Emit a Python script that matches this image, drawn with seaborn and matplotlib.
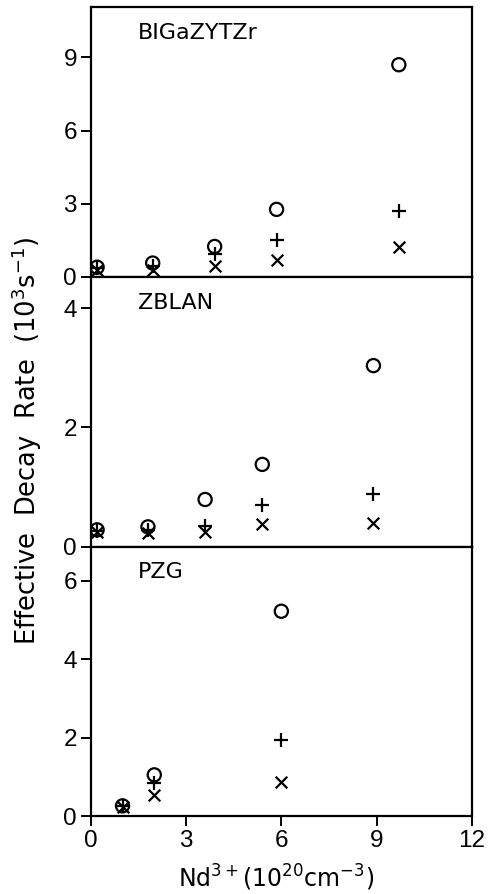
import numpy as np
import pandas as pd
import seaborn as sns
import matplotlib.pyplot as plt

# данные
glasses = ['BIGaZYTZr', 'ZBLAN', 'PZG']

conc_bigazytzr = [0.2, 1.95, 3.9, 5.85, 9.7]
o_bigazytzr = [0.40, 0.57, 1.25, 2.77, 8.7]
plus_bigazytzr = [0.35, 0.45, 0.95, 1.50, 2.72]
x_bigazytzr = [0.30, 0.30, 0.43, 0.68, 1.22]

conc_zblan = [0.2, 1.8, 3.6, 5.4, 8.9]
o_zblan = [0.28, 0.33, 0.79, 1.38, 3.04]
plus_zblan = [0.26, 0.28, 0.35, 0.69, 0.89]
x_zblan = [0.25, 0.22, 0.24, 0.37, 0.40]

conc_pzg = [1.0, 2.0, 6.0]
o_pzg = [0.26, 1.05, 5.22]
plus_pzg = [0.25, 0.85, 1.93]
x_pzg = [0.24, 0.54, 0.88]

y_ticks = {'BIGaZYTZr': [0, 3, 6, 9], 'ZBLAN': [0, 2, 4], 'PZG': [0, 2, 4, 6]}
y_tops = {'BIGaZYTZr': 11.05, 'ZBLAN': 4.53, 'PZG': 6.87}
x_ticks = [0, 3, 6, 9, 12]

rows = []
for g, c, o, p, x in [('BIGaZYTZr', conc_bigazytzr, o_bigazytzr, plus_bigazytzr, x_bigazytzr),
                      ('ZBLAN', conc_zblan, o_zblan, plus_zblan, x_zblan),
                      ('PZG', conc_pzg, o_pzg, plus_pzg, x_pzg)]:
    for i in range(len(c)):
        rows.append((g, c[i], 'o', o[i]))
        rows.append((g, c[i], '+', p[i]))
        rows.append((g, c[i], 'x', x[i]))
df = pd.DataFrame(rows, columns=['glass', 'conc', 'series', 'rate'])

sns.set_style('ticks')
plt.rcParams['font.family'] = ['Liberation Sans', 'DejaVu Sans']
plt.rcParams['mathtext.fontset'] = 'dejavusans'
for k in ['text.color', 'axes.labelcolor', 'xtick.color', 'ytick.color', 'axes.edgecolor']:
    plt.rcParams[k] = 'black'

fig = plt.figure(figsize=(4.88, 8.94), dpi=100)
h = 0.3015
bottoms = {'PZG': 0.0872, 'ZBLAN': 0.0872 + h, 'BIGaZYTZr': 0.0872 + 2 * h}

for g in glasses:
    a = fig.add_axes([0.186, bottoms[g], 0.781, h])
    sub = df[df['glass'] == g]
    s = sub[sub['series'] == 'o']
    sns.scatterplot(x=s['conc'], y=s['rate'], marker='o', s=90, facecolors='none',
                    edgecolor='black', linewidth=1.6, ax=a, zorder=3)
    s = sub[sub['series'] == '+']
    sns.scatterplot(x=s['conc'], y=s['rate'], marker='+', s=110, color='black',
                    linewidth=1.6, ax=a, zorder=3)
    s = sub[sub['series'] == 'x']
    sns.scatterplot(x=s['conc'], y=s['rate'], marker='x', s=70, color='black',
                    linewidth=1.6, ax=a, zorder=3)

    a.set_xlim(0, 12)
    a.set_ylim(0, y_tops[g])
    a.set_xticks(x_ticks)
    a.set_yticks(y_ticks[g])
    a.set_xlabel('')
    a.set_ylabel('')
    a.tick_params(axis='both', direction='out', length=7, width=1.4,
                  labelsize=17.5, color='black', labelcolor='black', pad=3)
    if g != 'PZG':
        a.tick_params(axis='x', labelbottom=False)
    for sp in a.spines.values():
        sp.set_visible(True)
        sp.set_linewidth(1.6)
        sp.set_color('black')
    a.text(0.123, 0.905, g, transform=a.transAxes, fontsize=16, va='center', ha='left',
           family='DejaVu Sans')

fig.text(0.055, 0.507, 'Effective  Decay  Rate  (10$^3$s$^{-1}$)', rotation=90,
         fontsize=18.5, ha='center', va='center', family='DejaVu Sans')
fig.text(0.565, 0.018, 'Nd$^{3+}$(10$^{20}$cm$^{-3}$)', fontsize=17, ha='center', va='center',
         family='DejaVu Sans')

fig.savefig('out.png', dpi=100)
